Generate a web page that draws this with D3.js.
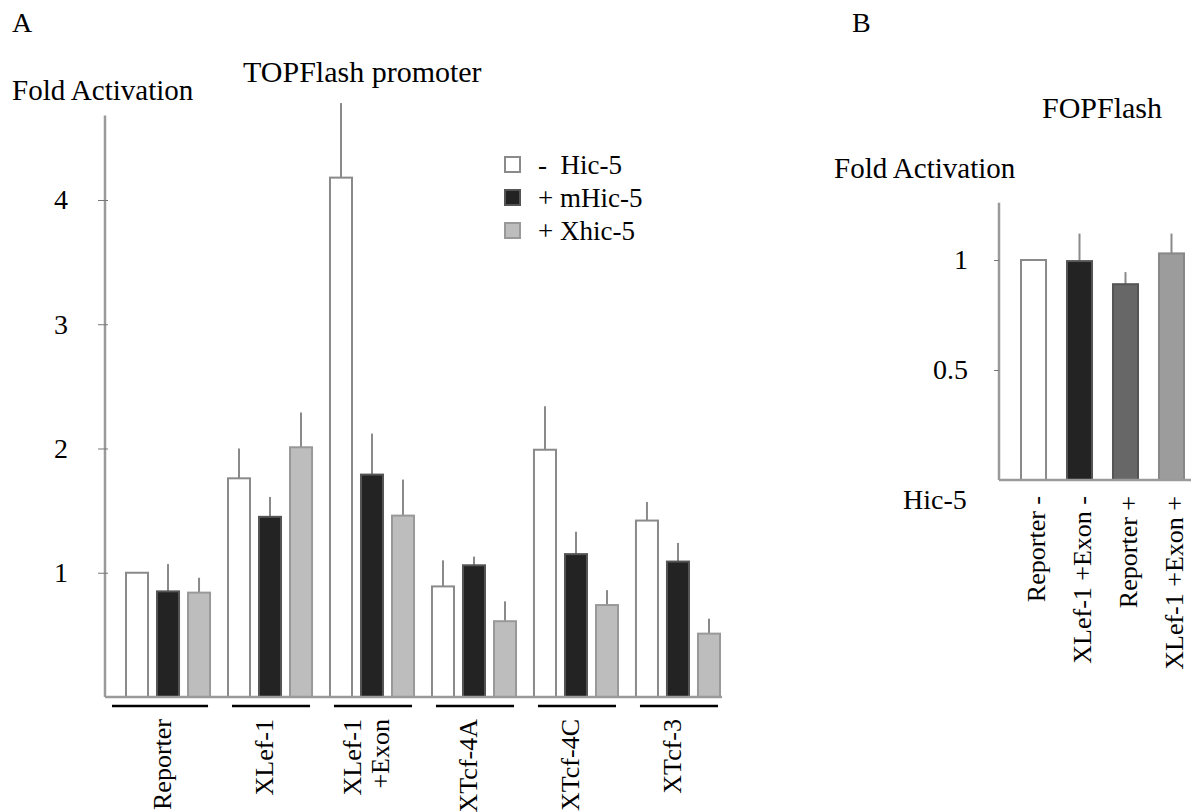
<!DOCTYPE html>
<html>
<head>
<meta charset="utf-8">
<script src="https://cdn.jsdelivr.net/npm/d3@7"></script>
<style>
  body { margin: 0; background: #fff; }
  text { white-space: pre; }
</style>
</head>
<body>
<script>
// panel A data
var groups = ["Reporter", "XLef-1", "XLef-1 +Exon", "XTcf-4A", "XTcf-4C", "XTcf-3"];
var groupLabels = [["Reporter"], ["XLef-1"], ["XLef-1", "+Exon"], ["XTcf-4A"], ["XTcf-4C"], ["XTcf-3"]];
var series = ["-  Hic-5", "+ mHic-5", "+ Xhic-5"];
var noHic5 = [1.0, 1.76, 4.18, 0.89, 1.99, 1.42];
var noHic5Err = [0, 0.24, 0.6, 0.21, 0.35, 0.15];
var mHic5 = [0.85, 1.45, 1.79, 1.06, 1.15, 1.09];
var mHic5Err = [0.22, 0.16, 0.33, 0.07, 0.18, 0.15];
var xHic5 = [0.84, 2.01, 1.46, 0.61, 0.74, 0.51];
var xHic5Err = [0.12, 0.28, 0.29, 0.16, 0.12, 0.12];
var yTicksA = [1, 2, 3, 4];

// panel B data
var bCats = ["Reporter -", "XLef-1 +Exon -", "Reporter +", "XLef-1 +Exon +"];
var bValues = [1.0, 0.995, 0.89, 1.03];
var bErr = [0, 0.125, 0.055, 0.09];
var yTicksB = [0.5, 1];

var fills = ["#ffffff", "#232323", "#bdbdbd"];
var strokes = ["#8a8a8a", "#555555", "#999999"];
var bFills = ["#ffffff", "#232323", "#676767", "#9c9c9c"];
var bStrokes = ["#8a8a8a", "#555555", "#555555", "#888888"];

var serif = "'Liberation Serif', Tinos, 'Times New Roman', Times, 'Nimbus Roman', 'DejaVu Serif', serif";

var svg = d3.select("body").append("svg")
    .attr("width", 1191)
    .attr("height", 812)
    .attr("font-family", serif);

// ---------- panel A ----------
var x0 = d3.scaleBand().domain(groups).range([126, 720]).paddingInner(0.176).paddingOuter(0);
var x1 = d3.scaleBand().domain(series).range([0, x0.bandwidth()]).paddingInner(0.29).paddingOuter(0);
var yA = d3.scaleLinear().domain([0, 4.68]).range([697, 115.5]);

var rows = [];
groups.forEach(function(g, i) {
    rows.push({g: g, s: series[0], k: 0, v: noHic5[i], e: noHic5Err[i]});
    rows.push({g: g, s: series[1], k: 1, v: mHic5[i], e: mHic5Err[i]});
    rows.push({g: g, s: series[2], k: 2, v: xHic5[i], e: xHic5Err[i]});
});

// error bars (upper only)
svg.selectAll(".errA")
    .data(rows.filter(function(d) { return d.e > 0; }))
  .enter().append("line")
    .attr("x1", function(d) { return x0(d.g) + x1(d.s) + x1.bandwidth() / 2; })
    .attr("x2", function(d) { return x0(d.g) + x1(d.s) + x1.bandwidth() / 2; })
    .attr("y1", function(d) { return yA(d.v); })
    .attr("y2", function(d) { return yA(d.v + d.e); })
    .style("stroke", "#8a8a8a")
    .style("stroke-width", "2px");

svg.selectAll(".barA")
    .data(rows)
  .enter().append("rect")
    .attr("x", function(d) { return x0(d.g) + x1(d.s); })
    .attr("width", x1.bandwidth())
    .attr("y", function(d) { return yA(d.v); })
    .attr("height", function(d) { return yA(0) - yA(d.v); })
    .style("fill", function(d) { return fills[d.k]; })
    .style("stroke", function(d) { return strokes[d.k]; })
    .style("stroke-width", "2px");

// y axis
var axisA = svg.append("g")
    .attr("transform", "translate(105,0)")
    .call(d3.axisLeft(yA).tickValues(yTicksA).tickFormat(d3.format("d")).tickSize(7).tickPadding(30));
axisA.attr("font-family", serif).attr("font-size", 28);
axisA.select(".domain").attr("d", "M0," + yA(4.68) + "V" + yA(0)).style("stroke", "#9a9a9a").style("stroke-width", "2.5px");
axisA.selectAll(".tick line").attr("x2", -7).attr("x1", 3).style("stroke", "#777");
axisA.selectAll(".tick text").attr("fill", "#000");

// baseline
svg.append("line")
    .attr("x1", 105).attr("x2", 722)
    .attr("y1", yA(0)).attr("y2", yA(0))
    .style("stroke", "#9a9a9a").style("stroke-width", "2.5px");

// group lines
svg.selectAll(".gline")
    .data(groups)
  .enter().append("line")
    .attr("x1", function(d, i) { return x0(d) + (i === 0 ? -14 : 4); })
    .attr("x2", function(d) { return x0(d) + x0.bandwidth() - 2; })
    .attr("y1", 706).attr("y2", 706)
    .style("stroke", "#000").style("stroke-width", "2.5px");

// group labels (rotated)
var lab = svg.selectAll(".glab")
    .data(groups)
  .enter().append("text")
    .attr("transform", function(d) { return "translate(" + (x0(d) + x0.bandwidth() / 2 - 6) + ",719) rotate(-90)"; })
    .attr("text-anchor", "end")
    .attr("font-size", 26);
lab.each(function(d, i) {
    var lines = groupLabels[i];
    var t = d3.select(this);
    lines.forEach(function(l, j) {
        t.append("tspan")
            .attr("x", 0)
            .attr("dy", j === 0 ? (0.35 - (lines.length - 1) * 0.55) + "em" : "1.1em")
            .text(l);
    });
});

// legend
var leg = svg.selectAll(".leg")
    .data(series)
  .enter().append("g")
    .attr("transform", function(d, i) { return "translate(505," + (157 + i * 33) + ")"; });
leg.append("rect")
    .attr("width", 15).attr("height", 15)
    .style("fill", function(d, i) { return fills[i]; })
    .style("stroke", function(d, i) { return strokes[i]; })
    .style("stroke-width", "2px");
leg.append("text")
    .attr("x", 33).attr("y", 8).attr("dy", "0.35em")
    .attr("font-size", 27)
    .text(function(d) { return d; });

// titles
svg.append("text").attr("x", 12).attr("y", 32).attr("font-size", 28).text("A");
svg.append("text").attr("x", 12).attr("y", 100).attr("font-size", 29).text("Fold Activation");
svg.append("text").attr("x", 243).attr("y", 82).attr("font-size", 30).text("TOPFlash promoter");

// ---------- panel B ----------
var xB = d3.scaleBand().domain(bCats).range([1021, 1184]).paddingInner(0.456).paddingOuter(0);
var yB = d3.scaleLinear().domain([0, 1.26]).range([480, 202.8]);

svg.selectAll(".errB")
    .data(bCats.filter(function(d, i) { return bErr[i] > 0; }))
  .enter().append("line")
    .attr("x1", function(d) { return xB(d) + xB.bandwidth() / 2; })
    .attr("x2", function(d) { return xB(d) + xB.bandwidth() / 2; })
    .attr("y1", function(d) { var i = bCats.indexOf(d); return yB(bValues[i]); })
    .attr("y2", function(d) { var i = bCats.indexOf(d); return yB(bValues[i] + bErr[i]); })
    .style("stroke", "#8a8a8a")
    .style("stroke-width", "2px");

svg.selectAll(".barB")
    .data(bCats)
  .enter().append("rect")
    .attr("x", function(d) { return xB(d); })
    .attr("width", xB.bandwidth())
    .attr("y", function(d, i) { return yB(bValues[i]); })
    .attr("height", function(d, i) { return yB(0) - yB(bValues[i]); })
    .style("fill", function(d, i) { return bFills[i]; })
    .style("stroke", function(d, i) { return bStrokes[i]; })
    .style("stroke-width", "2px");

var axisB = svg.append("g")
    .attr("transform", "translate(999,0)")
    .call(d3.axisLeft(yB).tickValues(yTicksB).tickFormat(function(d) { return d === 1 ? "1" : "0.5"; }).tickSize(5).tickPadding(26));
axisB.attr("font-family", serif).attr("font-size", 28);
axisB.select(".domain").attr("d", "M0," + yB(1.26) + "V" + yB(0)).style("stroke", "#9a9a9a").style("stroke-width", "2.5px");
axisB.selectAll(".tick line").style("stroke", "#777");
axisB.selectAll(".tick text").attr("fill", "#000");

svg.append("line")
    .attr("x1", 999).attr("x2", 1191)
    .attr("y1", yB(0)).attr("y2", yB(0))
    .style("stroke", "#9a9a9a").style("stroke-width", "2.5px");

svg.selectAll(".blab")
    .data(bCats)
  .enter().append("text")
    .attr("transform", function(d) { return "translate(" + (xB(d) + xB.bandwidth() / 2 + 2) + ",496) rotate(-90)"; })
    .attr("text-anchor", "end")
    .attr("dy", "0.35em")
    .attr("font-size", 26)
    .text(function(d) { return d; });

svg.append("text").attr("x", 903).attr("y", 509).attr("font-size", 28).text("Hic-5");
svg.append("text").attr("x", 852).attr("y", 32).attr("font-size", 28).text("B");
svg.append("text").attr("x", 1042).attr("y", 118).attr("font-size", 30).text("FOPFlash");
svg.append("text").attr("x", 834).attr("y", 178).attr("font-size", 29).text("Fold Activation");
</script>
</body>
</html>
